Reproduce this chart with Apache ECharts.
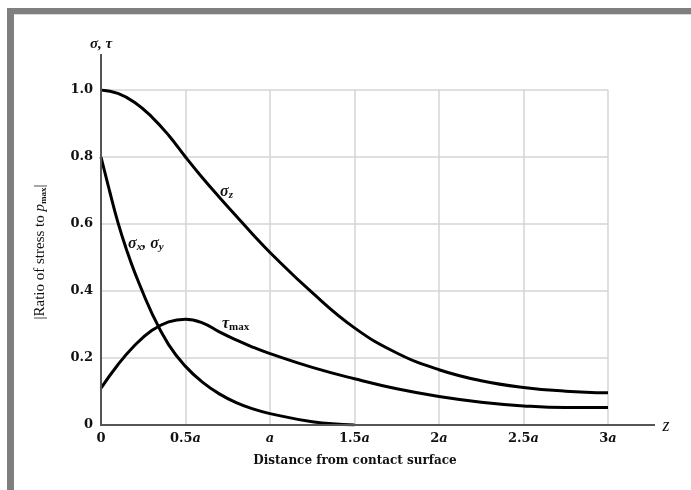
<!DOCTYPE html>
<html>
<head>
<meta charset="utf-8">
<script src="https://cdn.jsdelivr.net/npm/echarts@6/dist/echarts.min.js"></script>
<style>
  html, body { margin: 0; padding: 0; background: #ffffff; }
  #chart { width: 691px; height: 490px; }
</style>
</head>
<body>
<div id="chart"></div>
<script>
// Depth below contact surface (in units of a) and stress ratios
const zSigmaZ = [0, 0.1, 0.2, 0.3, 0.4, 0.5, 0.6, 0.7, 0.8, 0.9, 1.0, 1.25, 1.5, 1.75, 2.0, 2.25, 2.5, 2.75, 3.0];
const sigmaZ  = [1.0, 0.99, 0.963, 0.92, 0.865, 0.80, 0.738, 0.68, 0.624, 0.568, 0.515, 0.395, 0.29, 0.215, 0.165, 0.132, 0.112, 0.101, 0.096];

const zSigmaX = [0, 0.05, 0.1, 0.15, 0.2, 0.3, 0.4, 0.5, 0.6, 0.7, 0.8, 0.9, 1.0, 1.25, 1.5];
const sigmaX  = [0.80, 0.70, 0.605, 0.525, 0.455, 0.335, 0.24, 0.175, 0.128, 0.093, 0.067, 0.048, 0.034, 0.01, 0.0];

const zTau = [0, 0.1, 0.2, 0.3, 0.4, 0.5, 0.6, 0.7, 0.8, 0.9, 1.0, 1.25, 1.5, 1.75, 2.0, 2.25, 2.5, 2.75, 3.0];
const tauMax = [0.11, 0.18, 0.238, 0.282, 0.308, 0.316, 0.305, 0.278, 0.254, 0.232, 0.213, 0.172, 0.138, 0.108, 0.085, 0.068, 0.057, 0.052, 0.052];

const xTicks = {0: '0', 0.5: '0.5{i|a}', 1: '{i|a}', 1.5: '1.5{i|a}', 2: '2{i|a}', 2.5: '2.5{i|a}', 3: '3{i|a}'};
const yTicks = {0: '0', 0.2: '0.2', 0.4: '0.4', 0.6: '0.6', 0.8: '0.8', 1: '1.0'};

const pairs = (xs, ys) => xs.map((x, i) => [x, ys[i]]);
const SERIF = '"Liberation Serif", "DejaVu Serif", serif';
const WIDE = '"DejaVu Serif", serif';

const chart = echarts.init(document.getElementById('chart'));
const lineStyle = { color: '#000', width: 3 };
const seriesBase = { type: 'line', smooth: 0.45, showSymbol: false, lineStyle: lineStyle, z: 5 };

chart.setOption({
  backgroundColor: '#ffffff',
  animation: false,
  grid: { left: 101, right: 83, top: 90, bottom: 65 },
  xAxis: {
    type: 'value', min: 0, max: 3, interval: 0.5,
    axisLine: { show: false },
    axisTick: { show: false },
    splitLine: { show: true, lineStyle: { color: '#d4d4d4', width: 1.5 } },
    axisLabel: {
      margin: 7,
      fontFamily: WIDE, fontWeight: 'bold', fontSize: 13, color: '#111',
      formatter: v => xTicks[v] !== undefined ? xTicks[v] : '',
      rich: { i: { fontFamily: WIDE, fontStyle: 'italic', fontWeight: 'bold', fontSize: 13, color: '#111' } }
    }
  },
  yAxis: {
    type: 'value', min: 0, max: 1, interval: 0.2,
    axisLine: { show: false },
    axisTick: { show: false },
    splitLine: { show: true, lineStyle: { color: '#d4d4d4', width: 1.5 } },
    axisLabel: {
      margin: 8,
      fontFamily: WIDE, fontWeight: 'bold', fontSize: 13, color: '#111',
      formatter: v => { const k = Math.round(v * 10) / 10; return yTicks[k] !== undefined ? yTicks[k] : ''; }
    }
  },
  series: [
    Object.assign({ name: 'sigma_z', data: pairs(zSigmaZ, sigmaZ) }, seriesBase),
    Object.assign({ name: 'sigma_x', data: pairs(zSigmaX, sigmaX) }, seriesBase),
    Object.assign({ name: 'tau_max', data: pairs(zTau, tauMax) }, seriesBase)
  ],
  graphic: [
    // frame
    { type: 'rect', shape: { x: 7, y: 8, width: 684, height: 6 }, style: { fill: '#7f7f7f' }, silent: true },
    { type: 'rect', shape: { x: 7, y: 8, width: 7, height: 482 }, style: { fill: '#7f7f7f' }, silent: true },
    { type: 'line', shape: { x1: 14, y1: 14.5, x2: 691, y2: 14.5 }, style: { stroke: '#d8d8d8', lineWidth: 1 }, silent: true },
    // axes
    { type: 'line', shape: { x1: 101, y1: 54, x2: 101, y2: 426 }, style: { stroke: '#555', lineWidth: 2 }, z: 10, silent: true },
    { type: 'line', shape: { x1: 100, y1: 425, x2: 655, y2: 425 }, style: { stroke: '#555', lineWidth: 2 }, z: 10, silent: true },
    // axis names
    { type: 'text', x: 101, y: 44, style: { text: 'σ, τ', font: 'italic bold 15px ' + SERIF, fill: '#111', align: 'center', verticalAlign: 'middle' } },
    { type: 'text', x: 666, y: 426, style: { text: 'z', font: 'italic 18px ' + SERIF, fill: '#111', align: 'center', verticalAlign: 'middle' } },
    { type: 'text', x: 355, y: 461, style: { text: 'Distance from contact surface', font: 'bold 12px ' + WIDE, fill: '#111', align: 'center', verticalAlign: 'middle' } },
    { type: 'text', x: 40, y: 252, rotation: Math.PI / 2,
      style: { text: '|Ratio of stress to {i|p}{s|max}|', align: 'center', verticalAlign: 'middle',
        font: '15px ' + SERIF, fill: '#111',
        rich: { i: { fontFamily: SERIF, fontStyle: 'italic', fontSize: 15, fill: '#111' }, s: { fontFamily: SERIF, fontSize: 9, fontWeight: 'bold', fill: '#111', padding: [8, 0, 0, 0] } } } },
    // curve labels
    { type: 'text', left: 220, top: 184, style: { text: '{g|σ}{s|z}', rich: { g: { fontFamily: SERIF, fontStyle: 'italic', fontWeight: 'bold', fontSize: 16, fill: '#111' }, s: { fontFamily: SERIF, fontStyle: 'italic', fontWeight: 'bold', fontSize: 11, fill: '#111', padding: [7, 0, 0, 0] } } } },
    { type: 'text', left: 128, top: 236, style: { text: '{g|σ}{s|x}{g|, σ}{s|y}', rich: { g: { fontFamily: SERIF, fontStyle: 'italic', fontWeight: 'bold', fontSize: 16, fill: '#111' }, s: { fontFamily: SERIF, fontStyle: 'italic', fontWeight: 'bold', fontSize: 11, fill: '#111', padding: [7, 0, 0, 0] } } } },
    { type: 'text', left: 222, top: 316, style: { text: '{g|τ}{s|max}', rich: { g: { fontFamily: SERIF, fontStyle: 'italic', fontWeight: 'bold', fontSize: 16, fill: '#111' }, s: { fontFamily: SERIF, fontWeight: 'bold', fontSize: 11, fill: '#111', padding: [7, 0, 0, 0] } } } }
  ]
});
</script>
</body>
</html>
